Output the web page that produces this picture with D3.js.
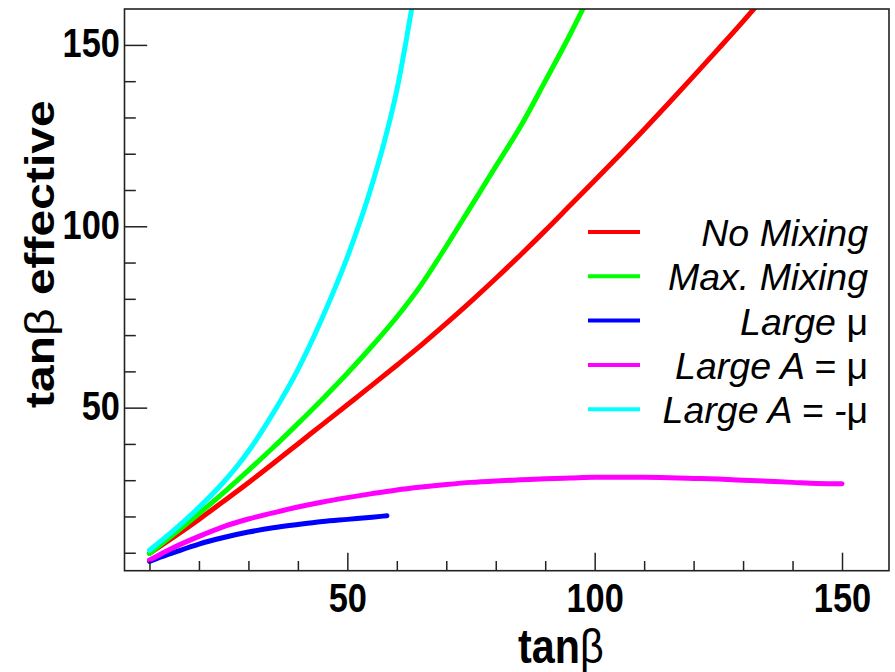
<!DOCTYPE html>
<html><head><meta charset="utf-8">
<script src="https://cdn.jsdelivr.net/npm/d3@7"></script>
<style>
body{margin:0;background:#fff}
text{font-family:"Liberation Sans",Arial,Helvetica,sans-serif}
</style>
</head><body>
<svg id="chart" width="895" height="672"></svg>
<script>
// ---------- data ----------
const seriesNames = ["No Mixing", "Max. Mixing", "Large μ", "Large A = μ", "Large A = -μ"];

const tanbNoMix = [10,15,20,25,30,35,40,45,50,55,60,65,70,75,80,85,90,95,100,105,110,115,120,125,130,133];
const effNoMix  = [9.8,14.4,19.2,24.2,29.3,34.6,40.0,45.4,50.8,56.2,61.7,67.3,73.2,79.3,85.6,92.1,98.8,105.7,112.6,119.6,126.7,134.0,141.4,148.9,156.5,161.2];

const tanbMaxMix = [10,15,20,25,30,35,40,45,50,55,60,65,70,75,80,85,90,95,98];
const effMaxMix  = [9.8,15.2,20.8,26.6,32.7,39.0,45.6,52.4,59.5,67.0,75.0,84.0,94.5,105.5,116.5,127.5,140.0,152.8,161.0];

const tanbLargeMu = [10,12.5,15,20,25,30,35,40,45,50,55,58];
const effLargeMu  = [7.6,8.9,10.1,12.4,14.2,15.7,16.9,17.8,18.6,19.2,19.8,20.2];

const tanbAmu = [10,12.5,15,20,25,30,35,40,45,50,55,60,65,70,75,80,85,90,95,100,105,110,115,120,125,130,135,140,145,150];
const effAmu  = [8.0,9.8,11.5,14.5,17.2,19.3,21.0,22.6,24.0,25.2,26.3,27.3,28.1,28.8,29.4,29.8,30.1,30.4,30.6,30.8,30.8,30.8,30.7,30.5,30.3,30.0,29.7,29.4,29.1,29.0];

const tanbAminusMu = [10,15,20,25,30,35,40,45,50,55,58,60,62,63.5];
const effAminusMu  = [10.7,16.3,22.5,29.5,38.0,48.5,60.5,75.0,91.5,111.5,126.0,137.5,152.0,164.0];

const xMinorTicks = [10,20,30,40,60,70,80,90,110,120,130,140];
const xMajorTicks = [50,100,150];
const yMinorTicks = [10,20,30,40,60,70,80,90,110,120,130,140];
const yMajorTicks = [50,100,150];

const seriesColors = ["#ff0000", "#00ff00", "#0000ff", "#ff00ff", "#00ffff"];

const series = [
  {name: seriesNames[0], x: tanbNoMix,    y: effNoMix},
  {name: seriesNames[1], x: tanbMaxMix,   y: effMaxMix},
  {name: seriesNames[2], x: tanbLargeMu,  y: effLargeMu},
  {name: seriesNames[3], x: tanbAmu,      y: effAmu},
  {name: seriesNames[4], x: tanbAminusMu, y: effAminusMu}
];

// ---------- layout ----------
const L = 124.5, R = 889, T = 9, B = 570.7;
const SX = 0.86; // horizontal compression of glyphs in the reference

const svg = d3.select("#chart");
const x = d3.scaleLinear().domain([4.95, 159.5]).range([L, R]);
const y = d3.scaleLinear().domain([5.05, 159.9]).range([B, T]);

svg.append("defs").append("clipPath").attr("id", "clip")
  .append("rect").attr("x", L).attr("y", T).attr("width", R - L).attr("height", B - T);

// curves
const line = d3.line().x(d => x(d[0])).y(d => y(d[1])).curve(d3.curveMonotoneX);
const gCurves = svg.append("g").attr("clip-path", "url(#clip)");
[2,3,0,1,4].forEach(i => {
  const s = series[i];
  const pts = s.x.map((v, k) => [v, s.y[k]]);
  gCurves.append("path")
    .attr("d", line(pts))
    .attr("fill", "none")
    .attr("stroke", seriesColors[i])
    .attr("stroke-width", 5)
    .attr("stroke-linejoin", "round")
    .attr("stroke-linecap", "round");
});

// frame
svg.append("rect").attr("x", L).attr("y", T).attr("width", R - L).attr("height", B - T)
  .attr("fill", "none").attr("stroke", "#222").attr("stroke-width", 1.6);

function styleAxis(g) {
  g.select(".domain").remove();
  g.selectAll(".tick line").attr("stroke", "#222").attr("stroke-width", 1.5);
}
// x axis
svg.append("g").attr("transform", `translate(0,${B})`)
  .call(d3.axisBottom(x).tickValues(xMinorTicks).tickSize(-9.7).tickFormat(""))
  .call(styleAxis);
const gxMaj = svg.append("g").attr("transform", `translate(0,${B})`)
  .call(d3.axisBottom(x).tickValues(xMajorTicks).tickSize(-18).tickPadding(41).tickFormat(d3.format("d")))
  .call(styleAxis);
gxMaj.selectAll(".tick text")
  .attr("y", 41).attr("dy", 0)
  .attr("transform", `scale(${SX},1)`)
  .attr("fill", "#000")
  .style("font-size", "40px").style("font-weight", "bold")
  .style("font-family", "'Liberation Sans',Arial,sans-serif");

// y axis
svg.append("g").attr("transform", `translate(${L},0)`)
  .call(d3.axisLeft(y).tickValues(yMinorTicks).tickSize(-11.3).tickFormat(""))
  .call(styleAxis);
const gyMaj = svg.append("g").attr("transform", `translate(${L},0)`)
  .call(d3.axisLeft(y).tickValues(yMajorTicks).tickSize(-22.7).tickPadding(4).tickFormat(d3.format("d")))
  .call(styleAxis);
gyMaj.selectAll(".tick text")
  .attr("x", -4.5 / SX).attr("y", 12).attr("dy", 0)
  .attr("transform", `scale(${SX},1)`)
  .attr("fill", "#000")
  .style("font-size", "40px").style("font-weight", "bold")
  .style("font-family", "'Liberation Sans',Arial,sans-serif");

// axis titles
const xt = svg.append("text")
  .attr("transform", `translate(518,663) scale(${SX},1)`)
  .style("font-size", "48px").style("font-weight", "bold");
xt.append("tspan").text("tan");
xt.append("tspan").style("font-weight", "normal").text("β");

const yt = svg.append("text")
  .attr("transform", `translate(53.5,408) rotate(-90) scale(1,${SX})`)
  .style("font-size", "48px").style("font-weight", "bold");
yt.append("tspan").text("tan");
yt.append("tspan").style("font-weight", "normal").text("β");
yt.append("tspan").text(" effective");

// legend
const legY0 = 232, legDy = 44.3;
series.forEach((s, i) => {
  const ly = legY0 + i * legDy;
  svg.append("line").attr("x1", 588).attr("x2", 640).attr("y1", ly).attr("y2", ly)
    .attr("stroke", seriesColors[i]).attr("stroke-width", 4);
  const t = svg.append("text").attr("x", 868).attr("y", ly + 14)
    .attr("text-anchor", "end")
    .style("font-size", "37.5px").style("font-style", "italic");
  const parts = s.name.split("μ");
  parts.forEach((p, k) => {
    if (p.length) t.append("tspan").text(p);
    if (k < parts.length - 1) t.append("tspan").style("font-style", "normal").text("μ");
  });
});
</script>
</body></html>
